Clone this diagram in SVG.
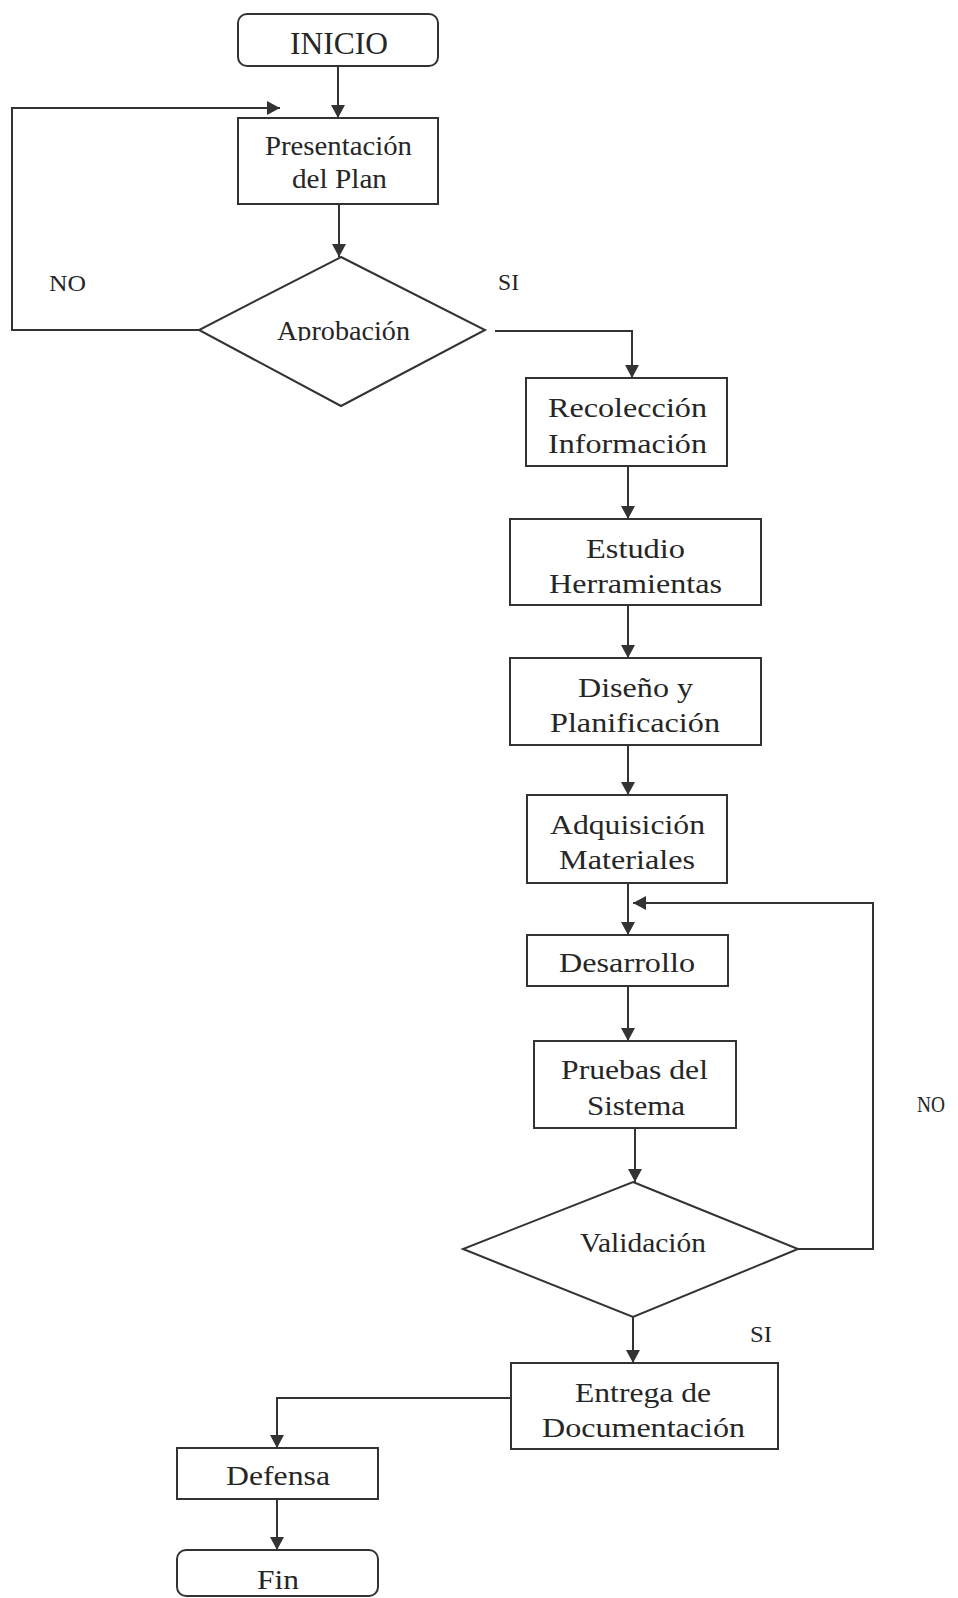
<svg xmlns="http://www.w3.org/2000/svg" width="958" height="1598" viewBox="0 0 958 1598">
  <style>
    .box { fill: #ffffff; stroke: #333333; stroke-width: 2; }
    .line { fill: none; stroke: #333333; stroke-width: 2; }
    .arrow { marker-end: url(#head); }
    text { font-family: "Liberation Serif", "Times New Roman", serif; fill: #262626; }
    .t { font-size: 28px; text-anchor: middle; }
    .big { font-size: 31px; text-anchor: middle; }
    .lbl { font-size: 23px; }
  </style>
  <defs>
    <marker id="head" markerUnits="userSpaceOnUse" markerWidth="14" markerHeight="14" refX="13" refY="7" orient="auto">
      <path d="M0,0 L13,7 L0,14 z" fill="#333333"/>
    </marker>
    <clipPath id="cutAprob">
      <rect x="200" y="250" width="290" height="91"/>
    </clipPath>
  </defs>
  <rect width="958" height="1598" fill="#ffffff"/>

  <!-- connectors -->
  <g id="connectors">
    <path class="line arrow" d="M338,66 V118"/>
    <path class="line arrow" d="M339,204 V257"/>
    <path class="line arrow" d="M199,330 H12 V108 H280"/>
    <path class="line arrow" d="M495,331 H632 V378"/>
    <path class="line arrow" d="M628,466 V519"/>
    <path class="line arrow" d="M628,605 V658"/>
    <path class="line arrow" d="M628,745 V795"/>
    <path class="line arrow" d="M628,883 V935"/>
    <path class="line arrow" d="M798,1249 H873 V903 H633"/>
    <path class="line arrow" d="M628,986 V1041"/>
    <path class="line arrow" d="M635,1128 V1182"/>
    <path class="line arrow" d="M633,1317 V1363"/>
    <path class="line arrow" d="M511,1398 H277 V1448"/>
    <path class="line arrow" d="M277,1499 V1550"/>
    <text class="lbl" x="49" y="291" textLength="37" lengthAdjust="spacingAndGlyphs">NO</text>
    <text class="lbl" x="498" y="290" textLength="21" lengthAdjust="spacingAndGlyphs">SI</text>
    <text class="lbl" x="917" y="1112" textLength="28" lengthAdjust="spacingAndGlyphs">NO</text>
    <text class="lbl" x="750" y="1342" textLength="22" lengthAdjust="spacingAndGlyphs">SI</text>
  </g>

  <g id="inicio">
    <rect class="box" x="238" y="14" width="200" height="52" rx="9"/>
    <text class="big" x="339" y="54" textLength="98" lengthAdjust="spacingAndGlyphs">INICIO</text>
  </g>

  <g id="presentacion">
    <rect class="box" x="238" y="118" width="200" height="86"/>
    <text class="t" x="338.5" y="155" textLength="147" lengthAdjust="spacingAndGlyphs">Presentación</text>
    <text class="t" x="339.5" y="188" textLength="95" lengthAdjust="spacingAndGlyphs">del Plan</text>
  </g>

  <g id="aprobacion">
    <polygon class="box" points="341,257 485,330 341,406 199,330"/>
    <text class="t" x="343.5" y="340" textLength="133" lengthAdjust="spacingAndGlyphs" clip-path="url(#cutAprob)">Aprobación</text>
  </g>

  <g id="recoleccion">
    <rect class="box" x="526" y="378" width="201" height="88"/>
    <text class="t" x="627.5" y="417" textLength="159" lengthAdjust="spacingAndGlyphs">Recolección</text>
    <text class="t" x="627.5" y="453" textLength="159" lengthAdjust="spacingAndGlyphs">Información</text>
  </g>

  <g id="estudio">
    <rect class="box" x="510" y="519" width="251" height="86"/>
    <text class="t" x="635.5" y="558" textLength="99" lengthAdjust="spacingAndGlyphs">Estudio</text>
    <text class="t" x="635.5" y="593" textLength="173" lengthAdjust="spacingAndGlyphs">Herramientas</text>
  </g>

  <g id="diseno">
    <rect class="box" x="510" y="658" width="251" height="87"/>
    <text class="t" x="635.5" y="697" textLength="115" lengthAdjust="spacingAndGlyphs">Diseño y</text>
    <text class="t" x="635" y="732" textLength="170" lengthAdjust="spacingAndGlyphs">Planificación</text>
  </g>

  <g id="adquisicion">
    <rect class="box" x="527" y="795" width="200" height="88"/>
    <text class="t" x="627.5" y="834" textLength="155" lengthAdjust="spacingAndGlyphs">Adquisición</text>
    <text class="t" x="627" y="869" textLength="136" lengthAdjust="spacingAndGlyphs">Materiales</text>
  </g>

  <g id="desarrollo">
    <rect class="box" x="527" y="935" width="201" height="51"/>
    <text class="t" x="627" y="972" textLength="136" lengthAdjust="spacingAndGlyphs">Desarrollo</text>
  </g>

  <g id="pruebas">
    <rect class="box" x="534" y="1041" width="202" height="87"/>
    <text class="t" x="634.5" y="1079" textLength="147" lengthAdjust="spacingAndGlyphs">Pruebas del</text>
    <text class="t" x="636" y="1115" textLength="98" lengthAdjust="spacingAndGlyphs">Sistema</text>
  </g>

  <g id="validacion">
    <polygon class="box" points="633,1182 798,1249 633,1317 463,1249"/>
    <text class="t" x="643" y="1252" textLength="126" lengthAdjust="spacingAndGlyphs">Validación</text>
  </g>

  <g id="entrega">
    <rect class="box" x="511" y="1363" width="267" height="86"/>
    <text class="t" x="643" y="1402" textLength="136" lengthAdjust="spacingAndGlyphs">Entrega de</text>
    <text class="t" x="643.5" y="1437" textLength="203" lengthAdjust="spacingAndGlyphs">Documentación</text>
  </g>

  <g id="defensa">
    <rect class="box" x="177" y="1448" width="201" height="51"/>
    <text class="t" x="278" y="1485" textLength="104" lengthAdjust="spacingAndGlyphs">Defensa</text>
  </g>

  <g id="fin">
    <rect class="box" x="177" y="1550" width="201" height="46" rx="9"/>
    <text class="t" x="278" y="1589" textLength="42" lengthAdjust="spacingAndGlyphs">Fin</text>
  </g>
</svg>
